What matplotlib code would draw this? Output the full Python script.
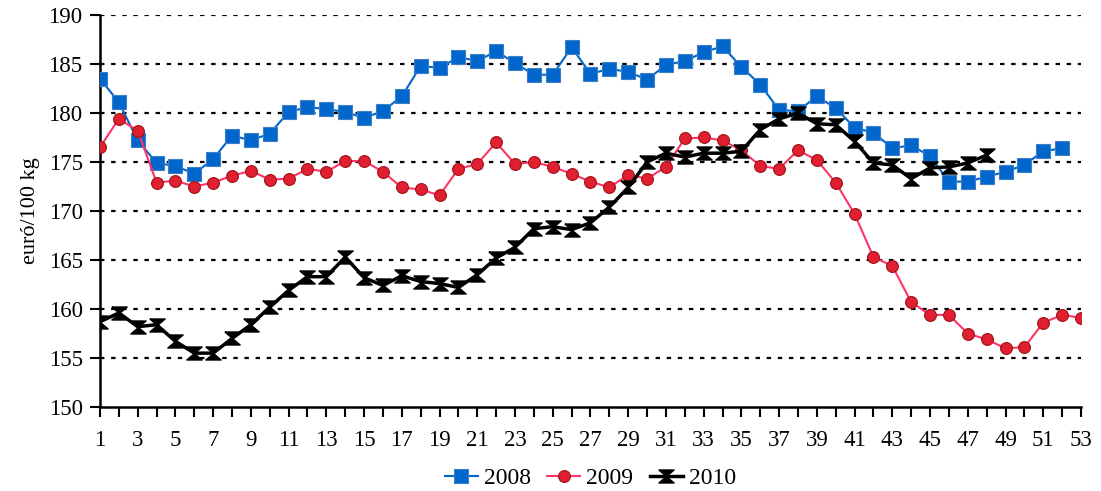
import matplotlib
matplotlib.use("Agg")
import matplotlib.pyplot as plt
import numpy as np

plt.rcParams["font.family"] = ["Liberation Serif", "DejaVu Serif"]

# Data (weekly prices, euró/100 kg)
y2008 = [183.5, 181.1, 177.2, 174.9, 174.6, 173.8, 175.3, 177.7, 177.2, 177.9,
         180.1, 180.6, 180.4, 180.1, 179.5, 180.2, 181.7, 184.8, 184.6, 185.7,
         185.3, 186.3, 185.1, 183.9, 183.9, 186.7, 184.0, 184.5, 184.2, 183.4,
         184.9, 185.3, 186.2, 186.8, 184.7, 182.9, 180.3, 180.2, 181.7, 180.5,
         178.5, 178.0, 176.4, 176.7, 175.6, 173.0, 173.0, 173.5, 174.0, 174.7,
         176.1, 176.4]
y2009 = [176.5, 179.4, 178.2, 172.9, 173.1, 172.5, 172.9, 173.6, 174.1, 173.2,
         173.3, 174.3, 174.0, 175.1, 175.1, 174.0, 172.4, 172.2, 171.6, 174.3,
         174.8, 177.0, 174.8, 175.0, 174.5, 173.8, 173.0, 172.4, 173.7, 173.3,
         174.5, 177.4, 177.5, 177.2, 176.2, 174.6, 174.3, 176.2, 175.2, 172.9,
         169.7, 165.3, 164.4, 160.7, 159.4, 159.4, 157.5, 156.9, 156.0, 156.1,
         158.6, 159.4, 159.1]
y2010 = [158.7, 159.6, 158.2, 158.4, 156.7, 155.5, 155.5, 157.0, 158.4, 160.2,
         161.9, 163.3, 163.3, 165.3, 163.2, 162.4, 163.4, 162.8, 162.6, 162.2,
         163.5, 165.2, 166.3, 168.2, 168.4, 168.1, 168.8, 170.4, 172.4, 175.0,
         175.9, 175.5, 175.9, 175.9, 176.1, 178.3, 179.4, 180.0, 178.9, 178.8,
         177.1, 174.9, 174.7, 173.3, 174.4, 174.5, 174.9, 175.7]
labels = ["2008", "2009", "2010"]

fig = plt.figure(figsize=(11.01, 4.91), dpi=100)
ax = fig.add_axes([0.0908, 0.171, 0.891, 0.7985])

hourglass = [(-1, 0.85), (1, 0.85), (0, 0), (1, -0.85), (-1, -0.85), (0, 0), (-1, 0.85)]

ax.plot(np.arange(1, len(y2008) + 1), y2008, color="#0066CC", lw=1.5,
        marker="s", ms=10, mfc="#0066CC", mec="#3D7FC4", mew=0.8, label=labels[0], zorder=3)
ax.plot(np.arange(1, len(y2009) + 1), y2009, color="#FF3366", lw=1.5,
        marker="o", ms=8.5, mfc="#E02030", mec="#A01018", mew=0.8, label=labels[1], zorder=4)
ax.plot(np.arange(1, len(y2010) + 1), y2010, color="black", lw=2.5,
        marker=hourglass, ms=11, mfc="black", mec="black", label=labels[2], zorder=5)

ax.set_xlim(1, 53)
ax.set_ylim(150, 190)
ax.set_yticks(np.arange(150, 191, 5))
ax.set_xticks(np.arange(1, 54, 2))
ax.set_xticks(np.arange(1, 54, 1), minor=True)
ax.tick_params(axis="both", labelsize=16.5, direction="out", length=7.5, width=1.5, color="black")
ax.tick_params(axis="x", which="minor", length=7.5, width=1.5)
ax.tick_params(axis="x", pad=9)
ax.tick_params(axis="y", pad=5)

for v in np.arange(155, 191, 5):
    ax.axhline(v, color="black", lw=1.6, ls=(0, (2, 3)), zorder=1)

for s in ["top", "right"]:
    ax.spines[s].set_visible(False)
ax.spines["left"].set_linewidth(1.8)
ax.spines["bottom"].set_linewidth(1.8)

ax.set_ylabel("euró/100 kg", fontsize=16, labelpad=6)

ax.legend(loc="upper center", bbox_to_anchor=(0.5, -0.1), ncol=3, frameon=False,
          fontsize=17, handlelength=1.4, handletextpad=0.25, columnspacing=0.7)

fig.savefig("out.png", dpi=100)
